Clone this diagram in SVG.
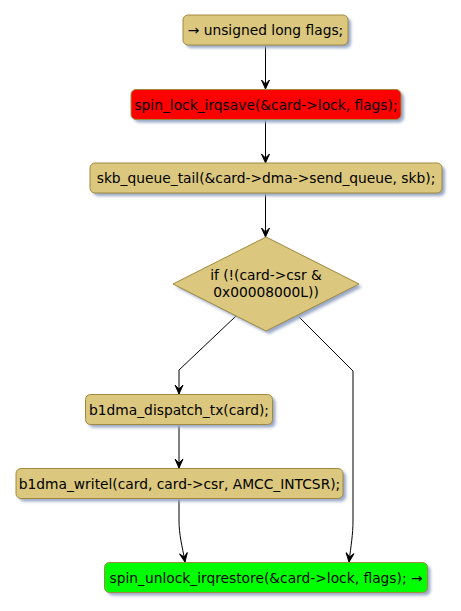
<svg xmlns="http://www.w3.org/2000/svg" width="461" height="611" viewBox="0 0 461 611">
<defs>
<filter id="sh" x="-10%" y="-20%" width="130%" height="160%"><feGaussianBlur stdDeviation="1.5"/></filter>
<marker id="ah" markerWidth="11" markerHeight="10" refX="10" refY="5" orient="auto" markerUnits="userSpaceOnUse" viewBox="0 0 11 10">
<path d="M10,5 L1,1 L5,5 L1,9 Z" fill="#000" stroke="#000" stroke-width="1"/>
</marker>
</defs>
<style>
.box{fill:#DBC77D;stroke:#A08A3E;stroke-width:1}
.shadow{fill:#9AA8C6;filter:url(#sh)}
text{font-family:"DejaVu Sans","Liberation Sans",sans-serif;font-size:13.8px;fill:#000;text-anchor:middle}
.edge{fill:none;stroke:#000;stroke-width:1}
</style>
<g id="connectors">
<path class="edge" d="M265.5,45 V89" marker-end="url(#ah)"/>
<path class="edge" d="M265.5,119 V163" marker-end="url(#ah)"/>
<path class="edge" d="M265.5,193 V237" marker-end="url(#ah)"/>
<path class="edge" d="M236,316 L179,370 V394" marker-end="url(#ah)"/>
<path class="edge" d="M179,424 V468" marker-end="url(#ah)"/>
<path class="edge" d="M179,498 V520 C179,535 182,545 185,562" marker-end="url(#ah)"/>
<path class="edge" d="M297,315 L353,371 V520 C353,535 351,545 349,562" marker-end="url(#ah)"/>
</g>
<g id="n1">
<rect class="shadow" x="186" y="18" width="165" height="30" rx="5"/>
<rect class="box" x="183" y="15" width="165" height="30" rx="5"/>
<text x="265.5" y="35">→ unsigned long flags;</text>
</g>
<g id="n2">
<rect class="shadow" x="134" y="92.5" width="270" height="30" rx="5"/>
<rect x="131" y="89.5" width="270" height="30" rx="5" fill="#FF0000" stroke="#A08A3E"/>
<text x="266" y="109.5">spin_lock_irqsave(&amp;card-&gt;lock, flags);</text>
</g>
<g id="n3">
<rect class="shadow" x="93" y="166" width="352" height="30" rx="5"/>
<rect class="box" x="90" y="163" width="352" height="30" rx="5"/>
<text x="266" y="183">skb_queue_tail(&amp;card-&gt;dma-&gt;send_queue, skb);</text>
</g>
<g id="n4">
<path class="shadow" d="M269,240 L362,287 L269,334 L176,287 Z"/>
<path class="box" d="M266,237 L359,284 L266,331 L173,284 Z"/>
<text x="266" y="280">if (!(card-&gt;csr &amp;</text>
<text x="266" y="297">0x00008000L))</text>
</g>
<g id="n5">
<rect class="shadow" x="88.5" y="397.5" width="187" height="30" rx="5"/>
<rect class="box" x="85.5" y="394.5" width="187" height="30" rx="5"/>
<text x="179" y="414.5">b1dma_dispatch_tx(card);</text>
</g>
<g id="n6">
<rect class="shadow" x="19" y="471.5" width="327" height="30" rx="5"/>
<rect class="box" x="16" y="468.5" width="327" height="30" rx="5"/>
<text x="179.5" y="488.5">b1dma_writel(card, card-&gt;csr, AMCC_INTCSR);</text>
</g>
<g id="n7">
<rect class="shadow" x="107.5" y="565.5" width="323" height="30" rx="5"/>
<rect x="104.5" y="562.5" width="323" height="30" rx="5" fill="#00FF00" stroke="#A08A3E"/>
<text x="266" y="582.5">spin_unlock_irqrestore(&amp;card-&gt;lock, flags); →</text>
</g>
</svg>
